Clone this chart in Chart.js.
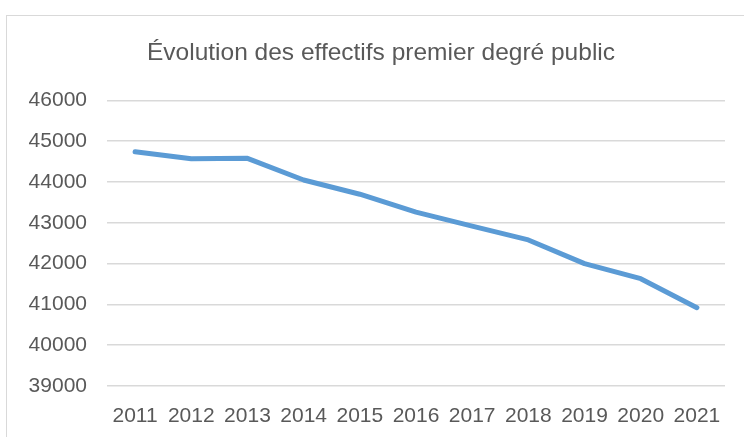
<!DOCTYPE html>
<html>
<head>
<meta charset="utf-8">
<script src="https://cdn.jsdelivr.net/npm/chart.js@4"></script>
<style>
    body { margin: 0; background: #fff; overflow: hidden; }
    #cadre { position: absolute; left: 6px; top: 15px; width: 800px; height: 500px; border: 1px solid #d9d9d9; }
    #zone { position: absolute; left: 0; top: 0; width: 744px; height: 437px; }
</style>
</head>
<body>
<div id="cadre"></div>
<div id="zone"><canvas id="graphique"></canvas></div>
<script>
// Données
const annees = ["2011", "2012", "2013", "2014", "2015", "2016", "2017", "2018", "2019", "2020", "2021"];
const effectifs = [44740, 44570, 44580, 44050, 43700, 43260, 42920, 42580, 42000, 41630, 40920];
const yMin = 39000;
const yMax = 46000;
const yPas = 1000;

document.addEventListener("DOMContentLoaded", function () {
    const ctx = document.getElementById("graphique");
    const gris = "#595959";
    const police = "'Liberation Sans', 'DejaVu Sans', sans-serif";

    new Chart(ctx, {
        type: 'line',
        data: {
            labels: annees,
            datasets: [{
                label: 'Effectifs',
                data: effectifs,
                borderColor: '#5b9bd5',
                backgroundColor: '#5b9bd5',
                borderWidth: 5,
                borderCapStyle: 'round',
                borderJoinStyle: 'round',
                pointRadius: 0,
                tension: 0
            }]
        },
        options: {
            responsive: true,
            maintainAspectRatio: false,
            animation: false,
            layout: { padding: { left: 20, right: 2, top: 0, bottom: 0 } },
            plugins: {
                legend: { display: false },
                tooltip: { enabled: false },
                title: {
                    display: true,
                    text: 'Évolution des effectifs premier degré public',
                    color: gris,
                    font: { family: police, size: 24.5, weight: 'normal' },
                    padding: { top: 39, bottom: 32 }
                }
            },
            scales: {
                x: {
                    offset: true,
                    grid: { display: false, drawTicks: false },
                    border: { display: false },
                    ticks: { color: gris, font: { family: police, size: 21 }, padding: 18, maxRotation: 0, autoSkip: false },
                    afterFit: function (scale) { scale.height = 51; }
                },
                y: {
                    min: yMin,
                    max: yMax,
                    grid: { color: '#d9d9d9', lineWidth: 1.5, drawTicks: false },
                    border: { display: false },
                    ticks: {
                        stepSize: yPas,
                        color: gris,
                        font: { family: police, size: 21 },
                        padding: 20,
                        callback: (v) => String(v)
                    },
                    afterFit: function (scale) { scale.width = 87; }
                },
                // marge à droite du tracé
                marge: {
                    position: 'right',
                    grid: { display: false, drawTicks: false },
                    border: { display: false },
                    ticks: { display: false },
                    afterFit: function (scale) { scale.width = 17; }
                }
            }
        }
    });
});
</script>
</body>
</html>
